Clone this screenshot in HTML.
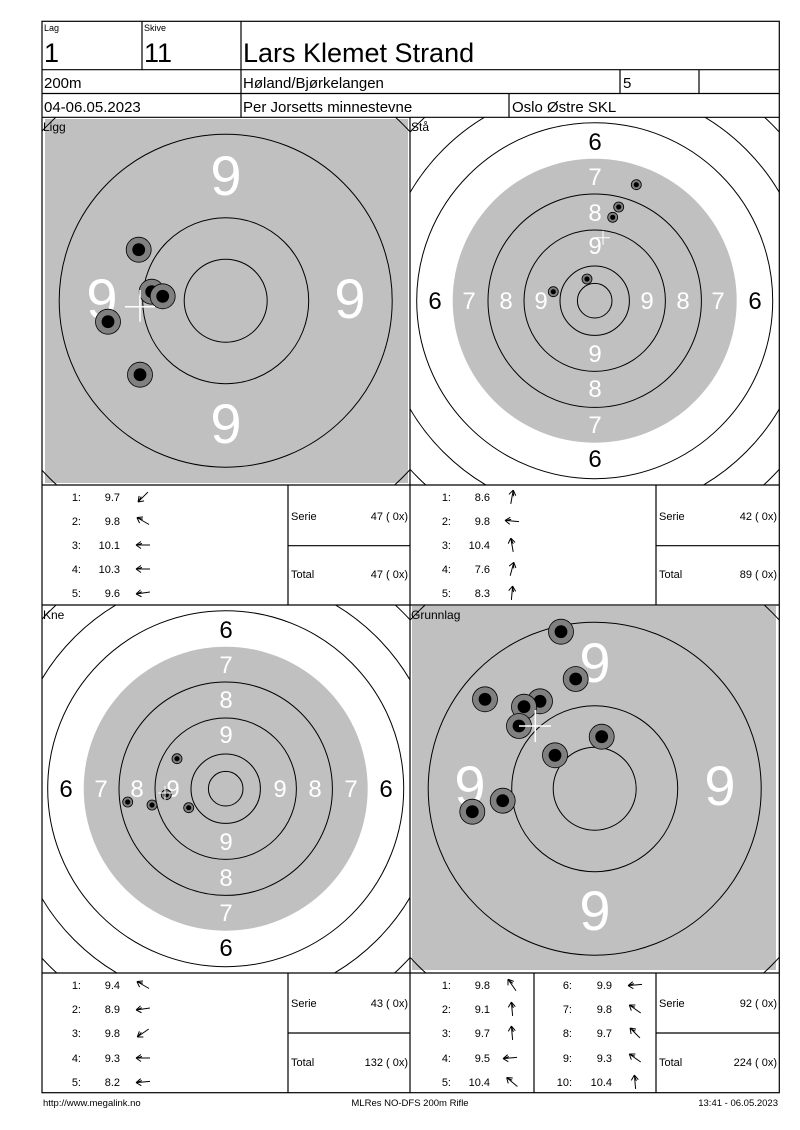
<!DOCTYPE html>
<html><head><meta charset="utf-8"><style>
html,body{margin:0;padding:0;background:#fff}
svg{display:block;font-family:"Liberation Sans",Arial,sans-serif}
</style></head><body>
<svg width="800" height="1130" viewBox="0 0 800 1130" xmlns="http://www.w3.org/2000/svg">
<defs>
<clipPath id="c1"><rect x="42" y="117" width="368" height="368"/></clipPath>
<clipPath id="c2"><rect x="410" y="117" width="369" height="368"/></clipPath>
<clipPath id="c3"><rect x="42" y="605" width="368" height="368"/></clipPath>
<clipPath id="c4"><rect x="410" y="605" width="369" height="368"/></clipPath>
<g id="ar"><path d="M7,0 L-7,0 M-7,0 L-2,-3.5 M-7,0 L-2,3.5 M-6,0 L-1,-1.5" stroke="#000" stroke-width="1" fill="none"/></g>
</defs>
<rect width="800" height="1130" fill="#fff"/>

<!-- Panel 1: Ligg -->
<g clip-path="url(#c1)">
<rect x="45" y="119" width="363" height="364" fill="#c0c0c0"/>
<g fill="none" stroke="#000" stroke-width="1">
<circle cx="225.7" cy="300.7" r="250"/>
<circle cx="225.7" cy="300.7" r="166.5"/>
<circle cx="225.7" cy="300.7" r="83"/>
<circle cx="225.7" cy="300.7" r="41.5"/>
</g>
<g fill="#fff" font-size="56" text-anchor="middle">
<text x="226" y="195">9</text><text x="226" y="443">9</text>
<text x="102" y="318">9</text><text x="350" y="318">9</text>
</g>
<g stroke="#000" stroke-width="0.8">
<circle cx="138.7" cy="249.7" r="12.5" fill="#808080"/><circle cx="138.7" cy="249.7" r="6" fill="#000"/>
<circle cx="151.7" cy="291.7" r="12.5" fill="#808080"/><circle cx="151.7" cy="291.7" r="6" fill="#000"/>
<circle cx="162.7" cy="296.3" r="12.5" fill="#808080"/><circle cx="162.7" cy="296.3" r="6" fill="#000"/>
<circle cx="108" cy="321.7" r="12.5" fill="#808080"/><circle cx="108" cy="321.7" r="6" fill="#000"/>
<circle cx="140" cy="374.7" r="12.5" fill="#808080"/><circle cx="140" cy="374.7" r="6" fill="#000"/>
</g>
<path d="M125,306.7 H155 M140,290 V321.7" stroke="#fff" stroke-width="1.5"/>
</g>
<text x="43" y="131" font-size="12">Ligg</text>

<!-- Panel 2: Stå -->
<g clip-path="url(#c2)">
<g fill="none" stroke="#000" stroke-width="1">
<circle cx="594.7" cy="300.7" r="250"/>
<circle cx="594.7" cy="300.7" r="214"/>
<circle cx="594.7" cy="300.7" r="178"/>
</g>
<circle cx="594.7" cy="300.7" r="142" fill="#c0c0c0"/>
<g fill="none" stroke="#000" stroke-width="1">
<circle cx="594.7" cy="300.7" r="106.7"/>
<circle cx="594.7" cy="300.7" r="70.7"/>
<circle cx="594.7" cy="300.7" r="34.7"/>
<circle cx="594.7" cy="300.7" r="17.3"/>
</g>
<g font-size="24" text-anchor="middle">
<text x="595" y="150" fill="#000">6</text><text x="595" y="467" fill="#000">6</text>
<text x="435" y="309" fill="#000">6</text><text x="755" y="309" fill="#000">6</text>
<g fill="#fff">
<text x="595" y="185">7</text><text x="595" y="221">8</text><text x="595" y="254">9</text>
<text x="595" y="362">9</text><text x="595" y="397">8</text><text x="595" y="433">7</text>
<text x="469" y="309">7</text><text x="506" y="309">8</text><text x="541" y="309">9</text>
<text x="647" y="309">9</text><text x="683" y="309">8</text><text x="718" y="309">7</text>
</g></g>
<g stroke="#000" stroke-width="0.8">
<circle cx="636.3" cy="184.7" r="5" fill="#808080"/><circle cx="636.3" cy="184.7" r="2.2" fill="#000"/>
<circle cx="618.7" cy="207" r="5" fill="#808080"/><circle cx="618.7" cy="207" r="2.2" fill="#000"/>
<circle cx="612.7" cy="217.3" r="5" fill="#808080"/><circle cx="612.7" cy="217.3" r="2.2" fill="#000"/>
<circle cx="587" cy="279" r="5" fill="#808080"/><circle cx="587" cy="279" r="2.2" fill="#000"/>
<circle cx="553.3" cy="291.7" r="5" fill="#808080"/><circle cx="553.3" cy="291.7" r="2.2" fill="#000"/>
</g>
<path d="M596,237.7 H610 M603,230.7 V244.7" stroke="#fff" stroke-width="1"/>
</g>
<text x="411" y="131" font-size="12">Stå</text>

<!-- Panel 3: Kne -->
<g clip-path="url(#c3)">
<g fill="none" stroke="#000" stroke-width="1">
<circle cx="225.7" cy="788.7" r="250"/>
<circle cx="225.7" cy="788.7" r="214"/>
<circle cx="225.7" cy="788.7" r="178"/>
</g>
<circle cx="225.7" cy="788.7" r="142" fill="#c0c0c0"/>
<g fill="none" stroke="#000" stroke-width="1">
<circle cx="225.7" cy="788.7" r="106.7"/>
<circle cx="225.7" cy="788.7" r="70.7"/>
<circle cx="225.7" cy="788.7" r="34.7"/>
<circle cx="225.7" cy="788.7" r="17.3"/>
</g>
<g font-size="24" text-anchor="middle">
<text x="226" y="638" fill="#000">6</text><text x="226" y="956" fill="#000">6</text>
<text x="66" y="797" fill="#000">6</text><text x="386" y="797" fill="#000">6</text>
<g fill="#fff">
<text x="226" y="673">7</text><text x="226" y="708">8</text><text x="226" y="743">9</text>
<text x="226" y="850">9</text><text x="226" y="886">8</text><text x="226" y="921">7</text>
<text x="101" y="797">7</text><text x="137" y="797">8</text><text x="173" y="797">9</text>
<text x="280" y="797">9</text><text x="315" y="797">8</text><text x="351" y="797">7</text>
</g></g>
<g stroke="#000" stroke-width="0.8">
<circle cx="177" cy="758.7" r="5" fill="#808080"/><circle cx="177" cy="758.7" r="2.2" fill="#000"/>
<circle cx="127.7" cy="802" r="5" fill="#808080"/><circle cx="127.7" cy="802" r="2.2" fill="#000"/>
<circle cx="152" cy="805" r="5" fill="#808080"/><circle cx="152" cy="805" r="2.2" fill="#000"/>
<circle cx="166.3" cy="794.7" r="5" fill="#808080"/><circle cx="166.3" cy="794.7" r="2.2" fill="#000"/>
<circle cx="188.7" cy="807.7" r="5" fill="#808080"/><circle cx="188.7" cy="807.7" r="2.2" fill="#000"/>
</g>
<path d="M158,793 H172 M165,786 V800" stroke="#fff" stroke-width="1"/>
</g>
<text x="43" y="619" font-size="12">Kne</text>

<!-- Panel 4: Grunnlag -->
<g clip-path="url(#c4)">
<rect x="412" y="606" width="364" height="364" fill="#c0c0c0"/>
<g fill="none" stroke="#000" stroke-width="1">
<circle cx="594.7" cy="788.7" r="250"/>
<circle cx="594.7" cy="788.7" r="166.5"/>
<circle cx="594.7" cy="788.7" r="83"/>
<circle cx="594.7" cy="788.7" r="41.5"/>
</g>
<g fill="#fff" font-size="56" text-anchor="middle">
<text x="595" y="682">9</text><text x="595" y="930">9</text>
<text x="470" y="805">9</text><text x="720" y="805">9</text>
</g>
<g stroke="#000" stroke-width="0.8">
<circle cx="561" cy="631.7" r="12.5" fill="#808080"/><circle cx="561" cy="631.7" r="6" fill="#000"/>
<circle cx="575.7" cy="679" r="12.5" fill="#808080"/><circle cx="575.7" cy="679" r="6" fill="#000"/>
<circle cx="485" cy="699.3" r="12.5" fill="#808080"/><circle cx="485" cy="699.3" r="6" fill="#000"/>
<circle cx="540" cy="701.3" r="12.5" fill="#808080"/><circle cx="540" cy="701.3" r="6" fill="#000"/>
<circle cx="524" cy="706.7" r="12.5" fill="#808080"/><circle cx="524" cy="706.7" r="6" fill="#000"/>
<circle cx="519" cy="726" r="12.5" fill="#808080"/><circle cx="519" cy="726" r="6" fill="#000"/>
<circle cx="601.7" cy="736.7" r="12.5" fill="#808080"/><circle cx="601.7" cy="736.7" r="6" fill="#000"/>
<circle cx="555" cy="755.3" r="12.5" fill="#808080"/><circle cx="555" cy="755.3" r="6" fill="#000"/>
<circle cx="502.7" cy="800.7" r="12.5" fill="#808080"/><circle cx="502.7" cy="800.7" r="6" fill="#000"/>
<circle cx="472.3" cy="811.7" r="12.5" fill="#808080"/><circle cx="472.3" cy="811.7" r="6" fill="#000"/>
</g>
<path d="M519,726 H551 M535.3,710 V742" stroke="#fff" stroke-width="1.5"/>
</g>
<text x="411" y="619" font-size="12">Grunnlag</text>

<!-- Grid lines -->
<g stroke="#000" stroke-width="1.2" fill="none">
<rect x="42" y="21.3" width="737.3" height="1071.4"/>
<line x1="42" y1="69.7" x2="779.3" y2="69.7"/>
<line x1="42" y1="93.5" x2="779.3" y2="93.5"/>
<line x1="42" y1="117.3" x2="779.3" y2="117.3"/>
<line x1="142" y1="21.3" x2="142" y2="69.7"/>
<line x1="241" y1="21.3" x2="241" y2="117.3"/>
<line x1="620" y1="69.7" x2="620" y2="93.5"/>
<line x1="699" y1="69.7" x2="699" y2="93.5"/>
<line x1="509" y1="93.5" x2="509" y2="117.3"/>
<line x1="410" y1="117.3" x2="410" y2="1092.7"/>
<line x1="42" y1="485" x2="779.3" y2="485"/>
<line x1="42" y1="605" x2="779.3" y2="605"/>
<line x1="42" y1="973" x2="779.3" y2="973"/>
<line x1="288" y1="485" x2="288" y2="605"/>
<line x1="656" y1="485" x2="656" y2="605"/>
<line x1="288" y1="545.7" x2="410" y2="545.7"/>
<line x1="656" y1="545.7" x2="779.3" y2="545.7"/>
<line x1="288" y1="973" x2="288" y2="1092.7"/>
<line x1="656" y1="973" x2="656" y2="1092.7"/>
<line x1="534" y1="973" x2="534" y2="1092.7"/>
<line x1="288" y1="1033" x2="410" y2="1033"/>
<line x1="656" y1="1033" x2="779.3" y2="1033"/>
</g>

<!-- Header text -->
<g fill="#000">
<text x="44" y="31" font-size="9">Lag</text>
<text x="144" y="31" font-size="9">Skive</text>
<text x="44" y="62" font-size="27">1</text>
<text x="144" y="62" font-size="27">11</text>
<text x="243" y="62" font-size="27">Lars Klemet Strand</text>
<text x="44" y="88" font-size="15">200m</text>
<text x="243" y="88" font-size="15">Høland/Bjørkelangen</text>
<text x="623" y="88" font-size="15">5</text>
<text x="44" y="112" font-size="15">04-06.05.2023</text>
<text x="243" y="112" font-size="15">Per Jorsetts minnestevne</text>
<text x="512" y="112" font-size="15">Oslo Østre SKL</text>
</g>

<!-- Score tables -->
<g font-size="11" fill="#000">
<!-- top-left -->
<g text-anchor="end">
<text x="81" y="501">1:</text><text x="120" y="501">9.7</text>
<text x="81" y="525">2:</text><text x="120" y="525">9.8</text>
<text x="81" y="549">3:</text><text x="120" y="549">10.1</text>
<text x="81" y="573">4:</text><text x="120" y="573">10.3</text>
<text x="81" y="597">5:</text><text x="120" y="597">9.6</text>
<text x="408" y="520">47 ( 0x)</text><text x="408" y="578">47 ( 0x)</text>
</g>
<text x="291" y="520">Serie</text><text x="291" y="578">Total</text>
<!-- top-right -->
<g text-anchor="end">
<text x="451" y="501">1:</text><text x="490" y="501">8.6</text>
<text x="451" y="525">2:</text><text x="490" y="525">9.8</text>
<text x="451" y="549">3:</text><text x="490" y="549">10.4</text>
<text x="451" y="573">4:</text><text x="490" y="573">7.6</text>
<text x="451" y="597">5:</text><text x="490" y="597">8.3</text>
<text x="777" y="520">42 ( 0x)</text><text x="777" y="578">89 ( 0x)</text>
</g>
<text x="659" y="520">Serie</text><text x="659" y="578">Total</text>
<!-- bottom-left -->
<g text-anchor="end">
<text x="81" y="989">1:</text><text x="120" y="989">9.4</text>
<text x="81" y="1013">2:</text><text x="120" y="1013">8.9</text>
<text x="81" y="1037">3:</text><text x="120" y="1037">9.8</text>
<text x="81" y="1062">4:</text><text x="120" y="1062">9.3</text>
<text x="81" y="1086">5:</text><text x="120" y="1086">8.2</text>
<text x="408" y="1007">43 ( 0x)</text><text x="408" y="1066">132 ( 0x)</text>
</g>
<text x="291" y="1007">Serie</text><text x="291" y="1066">Total</text>
<!-- bottom-right -->
<g text-anchor="end">
<text x="451" y="989">1:</text><text x="490" y="989">9.8</text>
<text x="451" y="1013">2:</text><text x="490" y="1013">9.1</text>
<text x="451" y="1037">3:</text><text x="490" y="1037">9.7</text>
<text x="451" y="1062">4:</text><text x="490" y="1062">9.5</text>
<text x="451" y="1086">5:</text><text x="490" y="1086">10.4</text>
<text x="572" y="989">6:</text><text x="612" y="989">9.9</text>
<text x="572" y="1013">7:</text><text x="612" y="1013">9.8</text>
<text x="572" y="1037">8:</text><text x="612" y="1037">9.7</text>
<text x="572" y="1062">9:</text><text x="612" y="1062">9.3</text>
<text x="572" y="1086">10:</text><text x="612" y="1086">10.4</text>
<text x="777" y="1007">92 ( 0x)</text><text x="777" y="1066">224 ( 0x)</text>
</g>
<text x="659" y="1007">Serie</text><text x="659" y="1066">Total</text>
</g>

<!-- Arrows -->
<use href="#ar" transform="translate(143,497) rotate(-45)"/>
<use href="#ar" transform="translate(143,521) rotate(30)"/>
<use href="#ar" transform="translate(143,545)"/>
<use href="#ar" transform="translate(143,569)"/>
<use href="#ar" transform="translate(143,593) rotate(-8)"/>
<use href="#ar" transform="translate(512,497) rotate(100)"/>
<use href="#ar" transform="translate(512,521) rotate(5)"/>
<use href="#ar" transform="translate(512,545) rotate(80)"/>
<use href="#ar" transform="translate(512,569) rotate(105)"/>
<use href="#ar" transform="translate(512,593) rotate(95)"/>
<use href="#ar" transform="translate(143,985) rotate(30)"/>
<use href="#ar" transform="translate(143,1009) rotate(-8)"/>
<use href="#ar" transform="translate(143,1033) rotate(-35)"/>
<use href="#ar" transform="translate(143,1058)"/>
<use href="#ar" transform="translate(143,1082) rotate(-5)"/>
<use href="#ar" transform="translate(512,985) rotate(55)"/>
<use href="#ar" transform="translate(512,1009) rotate(85)"/>
<use href="#ar" transform="translate(512,1033) rotate(85)"/>
<use href="#ar" transform="translate(510,1058) rotate(-5)"/>
<use href="#ar" transform="translate(512,1082) rotate(40)"/>
<use href="#ar" transform="translate(635,985) rotate(-5)"/>
<use href="#ar" transform="translate(635,1009) rotate(35)"/>
<use href="#ar" transform="translate(635,1033) rotate(45)"/>
<use href="#ar" transform="translate(635,1058) rotate(35)"/>
<use href="#ar" transform="translate(635,1082) rotate(85)"/>

<!-- Footer -->
<g font-size="9.5" fill="#000">
<text x="43" y="1106">http://www.megalink.no</text>
<text x="410" y="1106" text-anchor="middle">MLRes NO-DFS 200m Rifle</text>
<text x="778" y="1106" text-anchor="end">13:41 - 06.05.2023</text>
</g>
</svg>
</body></html>
